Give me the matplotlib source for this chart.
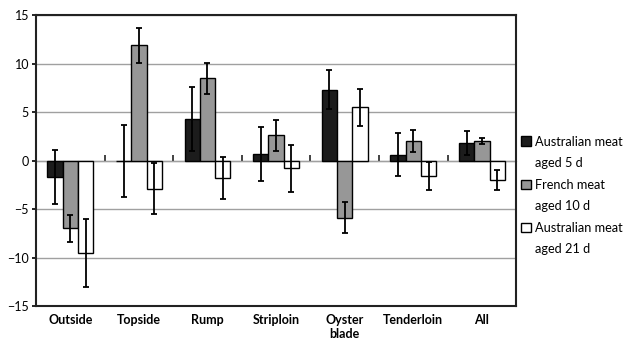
import matplotlib.pyplot as plt
from matplotlib.patches import Patch
import numpy as np

plt.rcParams['font.family'] = ['Lato', 'DejaVu Sans']

cuts = ['Outside', 'Topside', 'Rump', 'Striploin', 'Oyster\nblade', 'Tenderloin', 'All']
series = [('Australian meat', 'aged 5 d'), ('French meat', 'aged 10 d'), ('Australian meat', 'aged 21 d')]

aus5 = [-1.7, -0.05, 4.3, 0.7, 7.3, 0.6, 1.8]
aus5_err = [2.8, 3.75, 3.3, 2.8, 2.0, 2.2, 1.2]
fr10 = [-7.0, 11.9, 8.5, 2.6, -5.9, 2.0, 2.0]
fr10_err = [1.4, 1.8, 1.6, 1.6, 1.6, 1.1, 0.3]
aus21 = [-9.5, -2.9, -1.8, -0.8, 5.5, -1.6, -2.0]
aus21_err = [3.5, 2.65, 2.2, 2.4, 1.9, 1.45, 1.05]

values = [aus5, fr10, aus21]
errors = [aus5_err, fr10_err, aus21_err]
colors = ['#1c1c1c', '#979797', '#ffffff']

fig = plt.figure(figsize=(6.31, 3.42), dpi=100)
ax = fig.add_axes([0.057, 0.105, 0.761, 0.851])

x = np.arange(len(cuts))
w = 0.223
for i in range(3):
    ax.bar(x + (i - 1) * w, values[i], w, color=colors[i], edgecolor='black',
           linewidth=1.0, zorder=3)
    ax.errorbar(x + (i - 1) * w, values[i], yerr=errors[i], fmt='none',
                ecolor='black', elinewidth=1.3, capsize=2.5, capthick=1.3, zorder=4)

ax.set_xlim(-0.5, len(cuts) - 0.5)
ax.set_ylim(-15, 15)
ax.set_yticks(range(-15, 16, 5))
ax.yaxis.grid(True, color='#a0a0a0', linewidth=1.0)
ax.set_axisbelow(True)
ax.set_xticks(x)
ax.set_xticklabels(cuts, fontweight='bold', fontsize=9, linespacing=1.15)
ax.tick_params(axis='x', length=0, pad=6)
ax.tick_params(axis='y', labelsize=9, length=3, width=1.2, pad=2, direction='out')
for s in ax.spines.values():
    s.set_linewidth(1.5)
    s.set_color('#222222')

# category axis crossing at zero, with tick marks between groups
sec = ax.secondary_xaxis(0.5)
sec.set_xticks(np.arange(0.5, len(cuts) - 0.5, 1))
sec.set_xticklabels([])
sec.tick_params(length=4, width=1.2, direction='out', color='#222222')
sec.spines['bottom'].set_linewidth(1.3)
sec.spines['bottom'].set_color('#222222')

# legend: one row per text line, square next to the first line
handles, labels = [], []
for c, (l1, l2) in zip(colors, series):
    handles.append(Patch(facecolor=c, edgecolor='black', linewidth=1.0))
    labels.append(l1)
    handles.append(Patch(facecolor='none', edgecolor='none'))
    labels.append(l2)
ax.legend(handles, labels, loc='center left', bbox_to_anchor=(1.0, 0.38), frameon=False,
          fontsize=9.2, handlelength=0.75, handleheight=0.75, handletextpad=0.3,
          labelspacing=0.75, borderaxespad=0.1, borderpad=0.3)

fig.savefig('out.png', dpi=100)
